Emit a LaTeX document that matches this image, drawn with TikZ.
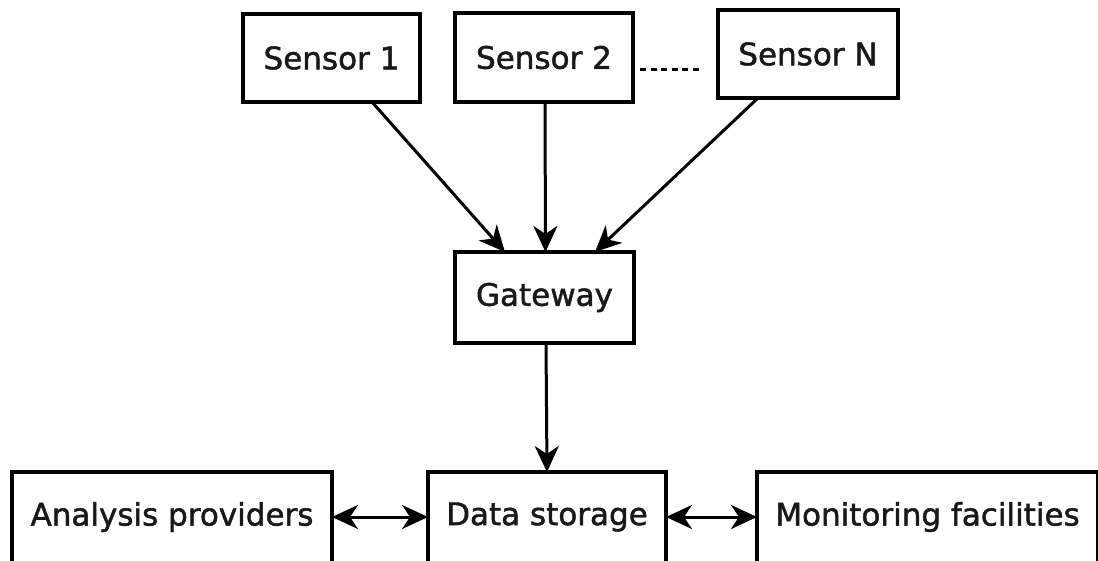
\documentclass[tikz,border=0pt]{standalone}
\usepackage{fontspec}
\setmainfont{DejaVu Sans}[RawFeature={embolden=1.5}]
\usetikzlibrary{arrows.meta}
\begin{document}
\begin{tikzpicture}[x=1pt,y=-1pt,
  label/.style={inner sep=0pt, outer sep=0pt, text=black!90,
    font=\fontsize{31}{37}\selectfont},
  box/.style={label, draw, line width=3.6pt},
  openbox/.style={label, minimum height=90pt},
  boxline/.style={draw, line width=3.6pt},
  flow/.style={line width=3pt, -{Stealth[length=26pt, width=24pt, inset=8pt]}},
  both/.style={line width=3pt, {Stealth[length=26pt, width=24pt, inset=8pt]}-{Stealth[length=26pt, width=24pt, inset=8pt]}},
  ellipsis/.style={line width=3pt, dash pattern=on 6pt off 4.6pt}]
  \clip (0,0) rectangle (1098,561);
  \fill[white] (0,0) rectangle (1098,561);

  % sensors
  \node[box, minimum width=177pt, minimum height=88pt] (s1) at (331.5,58) {Sensor 1};
  \node[box, minimum width=178pt, minimum height=89pt] (s2) at (544,57.5) {Sensor 2};
  \node[box, minimum width=180pt, minimum height=88pt] (sN) at (808,54) {Sensor N};
  \draw[ellipsis] ([xshift=7pt,yshift=-12.5pt]s2.east) -- ([xshift=-15pt,yshift=-16pt]sN.west);

  % gateway
  \node[box, minimum width=179pt, minimum height=91pt] (gw) at (544.5,297.5) {Gateway};

  % bottom row, boxes open at the lower edge
  \node[openbox, minimum width=320pt] (an) at (172,517) {Analysis providers};
  \node[openbox, minimum width=238pt] (ds) at (547,517) {Data storage};
  \node[openbox, minimum width=341pt] (mf) at (927.5,517) {Monitoring facilities};
  \foreach \n in {an,ds,mf}
    \draw[boxline] (\n.south west) -- (\n.north west) -- (\n.north east) -- (\n.south east);

  % connectors
  \draw[flow] ([xshift=40.5pt]s1.south) -- ([xshift=-39.5pt]gw.north);
  \draw[flow] ([xshift=1pt]s2.south) -- ([xshift=1pt]gw.north);
  \draw[flow] ([xshift=-50pt]sN.south) -- ([xshift=50.5pt]gw.north);
  \draw[flow] ([xshift=1.5pt]gw.south) -- (ds.north);
  \draw[both] (an.east) -- (ds.west);
  \draw[both] (ds.east) -- (mf.west);
\end{tikzpicture}
\end{document}
